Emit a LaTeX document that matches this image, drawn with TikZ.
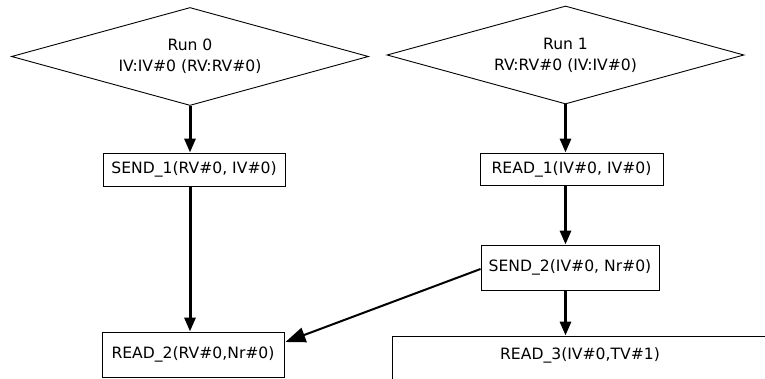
\documentclass[tikz,border=0pt]{standalone}
\usepackage{fontspec}
\setmainfont{DejaVu Sans}
\usetikzlibrary{shapes.geometric,arrows.meta}
\tikzset{
  txt/.style={font=\fontsize{15.6}{21}\selectfont, inner sep=0pt, align=center},
  runbox/.style={txt, draw, line width=0.9pt, shape=diamond, shape aspect=3.64,
                 minimum width=357pt, minimum height=98pt},
  opbox/.style={txt, draw, line width=0.9pt, rectangle, minimum width=182pt},
  flow/.style={line width=3pt, -{Triangle[length=14pt,width=11pt]}},
  cross/.style={line width=2pt, -{Triangle[length=20pt,width=15pt]}}
}
\begin{document}
\begin{tikzpicture}[x=1pt,y=-1pt]
  \clip (0,0) rectangle (765,379);
  \fill[white] (0,0) rectangle (765,379);

  % two runs
  \node[runbox] (run0) at (190,56.5) {Run 0\\IV:IV\#0 (RV:RV\#0)};
  \node[runbox] (run1) at (565.5,55) {Run 1\\RV:RV\#0 (IV:IV\#0)};

  % operations
  \node[opbox, minimum height=33pt] (send1) at (194,169.5) {SEND\_1(RV\#0, IV\#0)};
  \node[opbox, minimum height=32pt, minimum width=183pt] (read1) at (571.5,169) {READ\_1(IV\#0, IV\#0)};
  \node[opbox, minimum height=45pt, minimum width=178pt] (send2) at (570,267.5) {SEND\_2(IV\#0, Nr\#0)};
  \node[opbox, minimum height=45pt] (read2) at (193,354.5) {READ\_2(RV\#0,Nr\#0)};
  \node[opbox, minimum height=60pt, minimum width=376pt] (read3) at (580,366) {};
  \node[txt] (read3label) at (580,355) {READ\_3(IV\#0,TV\#1)};

  % control flow
  \draw[flow] (run0.south) -- (run0.south |- send1.north);
  \draw[flow] (run0.south |- send1.south) -- (run0.south |- read2.north);
  \draw[flow] (run1.south) -- (run1.south |- read1.north);
  \draw[flow] (run1.south |- read1.south) -- (run1.south |- send2.north);
  \draw[flow] (run1.south |- send2.south) -- (run1.south |- read3.north);
  \draw[cross] ([yshift=-1.5pt]send2.west) -- ([xshift=1pt,yshift=12.5pt]read2.east);
\end{tikzpicture}
\end{document}
